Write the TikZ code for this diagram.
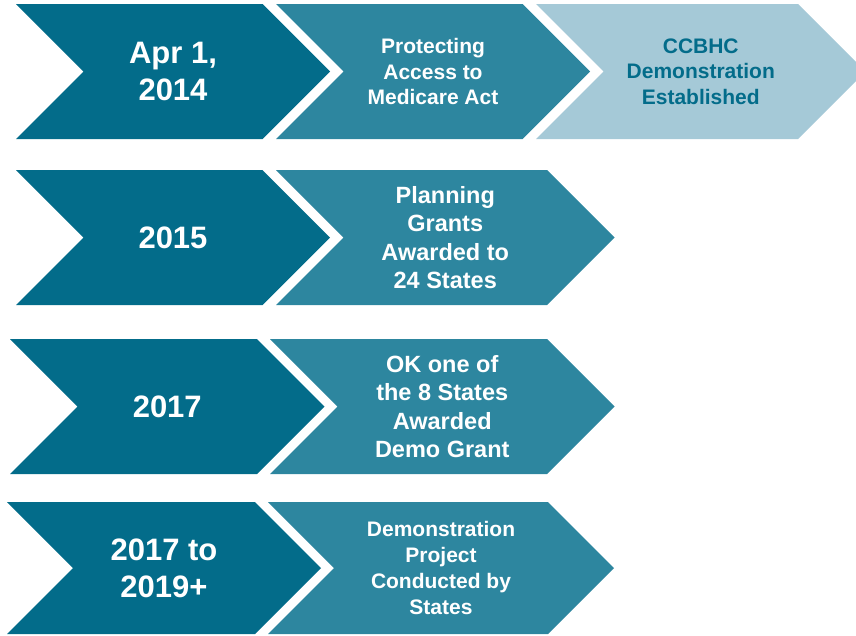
\documentclass[tikz,border=0pt]{standalone}
\usepackage{fontspec}
\setmainfont{Liberation Sans}
\usepackage{xcolor}

\definecolor{darkteal}{RGB}{3,108,138}
\definecolor{midteal}{RGB}{45,134,159}
\definecolor{paleteal}{RGB}{165,201,215}

% colour, left edge, tip, top, bottom
\newcommand{\chevron}[5]{%
  \fill[#1] (#2,#4) -- ({#3-(#5-#4)/2},#4) -- (#3,{(#4+#5)/2})
    -- ({#3-(#5-#4)/2},#5) -- (#2,#5) -- ({#2+(#5-#4)/2},{(#4+#5)/2}) -- cycle;}

\begin{document}
\begin{tikzpicture}
            [x=1pt,y=-1pt,
             year/.style={text=white,align=center,font=\bfseries\fontsize{31}{37}\selectfont},
             event/.style={text=white,align=center,font=\bfseries\fontsize{21}{25.7}\selectfont},
             bigevent/.style={event,font=\bfseries\fontsize{23.5}{28.5}\selectfont}]
            \useasboundingbox (0,0) rectangle (856,635);
            \clip (0,0) rectangle (856,635);

            \chevron{darkteal}{16}{330}{4}{139}
            \chevron{midteal}{276}{590}{4}{139}
            \chevron{paleteal}{536}{865.5}{4}{139}
            \node[year] (apr) at (173,71.5) {Apr 1,\\2014};
            \node[event] (pama) at (433,71.5) {Protecting\\Access to\\Medicare Act};
            \node[event,text=darkteal] (ccbhc) at (700.75,71.5) {CCBHC\\Demonstration\\Established};

            \chevron{darkteal}{16}{330}{170}{305}
            \chevron{midteal}{276}{614.5}{170}{305}
            \node[year] (y2015) at (173,237.5) {2015};
            \node[bigevent] (planning) at (445.25,237.5) {Planning\\Grants\\Awarded to\\24 States};

            \chevron{darkteal}{10}{324.5}{339}{474}
            \chevron{midteal}{270}{614.5}{339}{474}
            \node[year] (y2017) at (167.25,406.5) {2017};
            \node[bigevent] (okgrant) at (442.25,406.5) {OK one of\\the 8 States\\Awarded\\Demo Grant};

            \chevron{darkteal}{7}{321}{502}{634}
            \chevron{midteal}{268}{614}{502}{634}
            \node[year] (y2019) at (164,568) {2017 to\\2019+};
            \node[event] (project) at (441,568) {Demonstration\\Project\\Conducted by\\States};
          \end{tikzpicture}
\end{document}
